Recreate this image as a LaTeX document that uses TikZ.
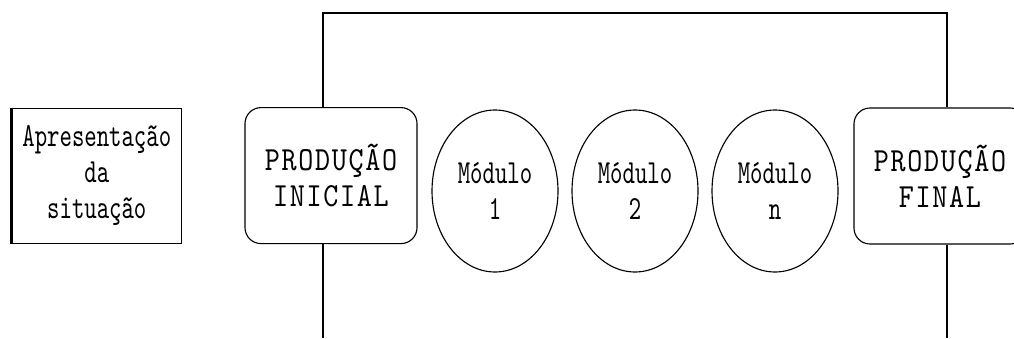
\documentclass[tikz,border=0pt]{standalone}
\usepackage{fontspec}
\usetikzlibrary{shapes.geometric}
\newfontfamily\typefont[Extension=.otf,FakeStretch=0.7]{lmmono10-regular}
\newfontfamily\capsfont[Extension=.otf,FakeStretch=0.85,LetterSpace=5]{lmmono10-regular}

\begin{document}
\begin{tikzpicture}[line width=0.8pt, node distance=3.5cm,
  sit node/.style={rectangle,draw,align=center,minimum width=4.25cm,minimum height=3.375cm,
    font=\typefont\fontsize{24}{25.6}\selectfont},
  prod node/.style={rectangle,draw,rounded corners=0.4cm,align=center,minimum width=4.3cm,minimum height=3.4cm,
    font=\capsfont\fontsize{24}{25.6}\selectfont},
  mod node/.style={ellipse,draw,align=center,inner sep=0pt,minimum width=3.15cm,minimum height=4.05cm,
    font=\typefont\fontsize{24}{25.6}\selectfont}]

  \useasboundingbox (0,0) rectangle (25.35,8.45);
  \clip (0,0) rectangle (25.35,8.45);

  \node[sit node] (S) at (2.42,4.06) {Apresentação\\da\\situação};
  \draw[line width=1.8pt] (S.north west) -- (S.south west);

  \node[prod node] (PI) at (8.275,4.06) {PRODUÇÃO\\INICIAL};
  \node[mod node] (M1) at (12.375,3.675) {Módulo\\1};
  \node[mod node] (M2) [right of=M1] {Módulo\\2};
  \node[mod node] (Mn) [right of=M2] {Módulo\\n};
  \node[prod node] (PF) at (23.5,4.05) {PRODUÇÃO\\FINAL};

  \coordinate (TL) at (8.075,8.125);
  \coordinate (TR) at (23.675,8.125);
  \coordinate (BL) at (8.075,0);
  \coordinate (BR) at (23.675,0);

  \draw (PI.north -| TL) -- (TL) -- (TR) -- (PF.north -| TR);
  \draw (PI.south -| BL) -- (BL);
  \draw (PF.south -| BR) -- (BR);
\end{tikzpicture}
\end{document}
